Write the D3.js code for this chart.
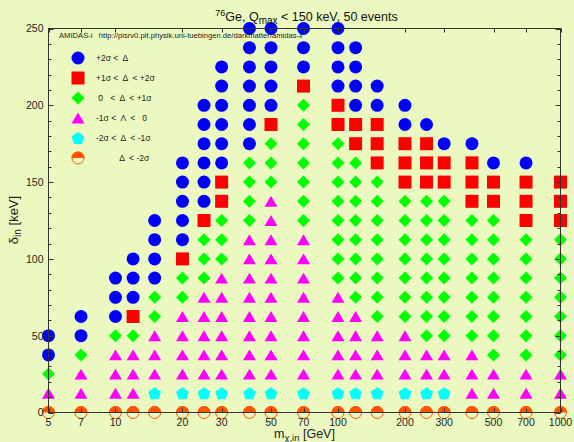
<!DOCTYPE html>
<html>
<head>
<meta charset="utf-8">
<script src="https://cdn.jsdelivr.net/npm/d3@7"></script>
<style>
  html, body { margin: 0; padding: 0; background: #ebf9c0; }
  svg { display: block; font-family: "Liberation Sans", Arial, Helvetica, sans-serif; }
  text { white-space: pre; }
</style>
</head>
<body>
<svg id="chart" width="574" height="442"></svg>
<script>
// WIMP mass columns (GeV)
const masses = [5, 7, 10, 12, 15, 20, 25, 30, 40, 50, 70, 100, 120, 150, 200, 250, 300, 400, 500, 700, 1000];
// delta_in rows (keV)
const deltas = [0, 12.5, 25, 37.5, 50, 62.5, 75, 87.5, 100, 112.5, 125, 137.5, 150,
                162.5, 175, 187.5, 200, 212.5, 225, 237.5, 250];
// Outcome class per (mass, delta) cell, listed from delta = 0 upward, one string per mass
const outcomes = [
  "OMGBB",
  "OMMGBB",
  "OMMMGBBB",
  "OMMMGRBBB",
  "OCMMMGGBBBB",
  "OCMMMMGGRBBBBB",
  "OCMMMMMGGGRBBBBBB",
  "OCMMMMMMGGGRRBBBBBB",
  "OCMMMMMMMMGGGGBBBBBBB",
  "OCMMMMMMMMMMGGGRBBBBB",
  "OCMMMMMMMMGGGGGGGRBBB",
  "OCMMMMMGGGGGGGGRRBBBB",
  "OCMMMMGGGGGGGGRRBBBB",
  "OCMMMGGGGGGGGRRRBB",
  "OCMMMGGGGGGGRRRBB",
  "OCMMGGGGGGGGRRRB",
  "OCMMGGGGGGGGRRB",
  "OMMMGGGGGGGRRRB",
  "OMMGGGGGGGGRRB",
  "OMMGGGGGGGRRRB",
  "OMMGGGGGGGRRR"
];
// Legend classes and their labels
const classCodes  = ["B", "R", "G", "M", "C", "O"];
const classLabels = ["+2σ <  Δ", "+1σ <  Δ  < +2σ", " 0   <  Δ  < +1σ", "-1σ <  Λ  <   0", "-2σ <  Δ  < -1σ", "          Δ  < -2σ"];
// Axis ticks
const xTickValues = [5, 7, 10, 20, 30, 50, 70, 100, 200, 300, 500, 700, 1000];
const yTickValues = [0, 50, 100, 150, 200, 250];

// ---- layout & styles ----
const W = 574, H = 442;
const plot = { left: 48.5, right: 560.5, top: 28.5, bottom: 412.5 };
const bg = "#ebf9c0";
const colors = { B: "#0000ff", R: "#ff0000", G: "#00ff00", M: "#ff00ff", C: "#00ffff", O: "#ff5500" };

const svg = d3.select("#chart");
svg.append("rect").attr("width", W).attr("height", H).attr("fill", bg);

const x = d3.scaleLog().domain([5, 1000]).range([plot.left, plot.right]);
const y = d3.scaleLinear().domain([0, 250]).range([plot.bottom, plot.top]);

// ---- custom symbol shapes ----
const diamond = {
  draw(ctx, size) {
    const r = Math.sqrt(size) / 2;
    ctx.moveTo(0, -r); ctx.lineTo(r, 0); ctx.lineTo(0, r); ctx.lineTo(-r, 0); ctx.closePath();
  }
};
const triangleUp = {
  draw(ctx, size) {
    const w = Math.sqrt(size), h = w * 0.84;
    ctx.moveTo(0, -h / 2); ctx.lineTo(w / 2, h / 2); ctx.lineTo(-w / 2, h / 2); ctx.closePath();
  }
};
const pentagon = {
  draw(ctx, size) {
    const R = Math.sqrt(size) / 2;
    const dy = R * (1 - Math.cos(Math.PI / 5)) / 2;
    for (let k = 0; k < 5; k++) {
      const a = -Math.PI / 2 + k * 2 * Math.PI / 5;
      const px = R * Math.cos(a), py = R * Math.sin(a) + dy;
      if (k === 0) ctx.moveTo(px, py); else ctx.lineTo(px, py);
    }
    ctx.closePath();
  }
};

const shapeFor = {
  B: d3.symbol().type(d3.symbolCircle).size(Math.PI * 6.5 * 6.5),
  R: d3.symbol().type(d3.symbolSquare).size(13 * 13),
  G: d3.symbol().type(diamond).size(13 * 13),
  M: d3.symbol().type(triangleUp).size(13 * 13),
  C: d3.symbol().type(pentagon).size(13.4 * 13.4)
};
const halfR = 6.5;
const upperHalf = d3.arc()({ innerRadius: 0, outerRadius: halfR, startAngle: -Math.PI / 2, endAngle: Math.PI / 2 });

function drawMarker(g, code) {
  if (code === "O") {
    g.append("circle").attr("r", halfR - 0.5).attr("fill", "none")
      .attr("stroke", colors.O).attr("stroke-width", 1);
    g.append("path").attr("d", upperHalf).attr("fill", colors.O);
  } else {
    g.append("path").attr("d", shapeFor[code]()).attr("fill", colors[code]);
  }
}

// ---- data cells ----
const cells = [];
masses.forEach((m, i) => {
  outcomes[i].split("").forEach((code, j) => cells.push({ m, d: deltas[j], code }));
});

const markG = svg.append("g");
markG.selectAll("g.cell").data(cells).join("g")
  .attr("class", "cell")
  .attr("transform", c => `translate(${x(c.m)},${y(c.d)})`)
  .each(function (c) { drawMarker(d3.select(this), c.code); });

// ---- frame and ticks ----
const axisColor = "#333";
const frame = svg.append("g").attr("stroke", axisColor).attr("stroke-width", 1).attr("fill", "none");
frame.append("rect")
  .attr("x", plot.left).attr("y", plot.top)
  .attr("width", plot.right - plot.left).attr("height", plot.bottom - plot.top);

const yMinor = y.ticks(25);
yMinor.forEach(v => {
  const len = yTickValues.includes(v) ? 5 : 3;
  const py = Math.round(y(v)) + 0.5;
  frame.append("line").attr("x1", plot.left).attr("x2", plot.left + len).attr("y1", py).attr("y2", py);
  frame.append("line").attr("x1", plot.right).attr("x2", plot.right - len).attr("y1", py).attr("y2", py);
});
xTickValues.forEach(v => {
  const px = Math.round(x(v)) + 0.5;
  frame.append("line").attr("x1", px).attr("x2", px).attr("y1", plot.bottom).attr("y2", plot.bottom - 4);
  frame.append("line").attr("x1", px).attr("x2", px).attr("y1", plot.top).attr("y2", plot.top + 4);
});

// ---- tick labels ----
const tickFont = 10.5, textColor = "#222";
svg.append("g").selectAll("text").data(yTickValues).join("text")
  .attr("x", plot.left - 5).attr("y", v => y(v) + 3.8)
  .attr("text-anchor", "end").attr("font-size", tickFont).attr("fill", textColor)
  .text(v => v);
svg.append("g").selectAll("text").data(xTickValues).join("text")
  .attr("x", v => x(v)).attr("y", 426)
  .attr("text-anchor", "middle").attr("font-size", tickFont).attr("fill", textColor)
  .text(v => v);

// ---- axis titles ----
const xt = svg.append("text").attr("x", (plot.left + plot.right) / 2).attr("y", 438)
  .attr("text-anchor", "middle").attr("font-size", 12.5).attr("fill", textColor);
xt.append("tspan").text("m");
xt.append("tspan").attr("dy", 2.5).attr("font-size", 9.5).text("χ,in");
xt.append("tspan").attr("dy", -2.5).text(" [GeV]");

const yt = svg.append("text").attr("transform", "translate(18,220) rotate(-90)")
  .attr("text-anchor", "middle").attr("font-size", 13).attr("fill", textColor);
yt.append("tspan").text("δ");
yt.append("tspan").attr("dy", 3).attr("font-size", 10).text("in");
yt.append("tspan").attr("dy", -3).text(" [keV]");

// ---- title ----
const title = svg.append("text").attr("x", (plot.left + plot.right) / 2 + 2).attr("y", 21)
  .attr("text-anchor", "middle").attr("font-size", 12.5).attr("fill", "#111");
title.append("tspan").attr("dy", -5).attr("font-size", 9).text("76");
title.append("tspan").attr("dy", 5).text("Ge, Q");
title.append("tspan").attr("dy", 3).attr("font-size", 10).text("max");
title.append("tspan").attr("dy", -3).text(" < 150 keV, 50 events");

// ---- program note ----
svg.append("text").attr("x", 59).attr("y", 38).attr("font-size", 7.4).attr("fill", "#222")
  .attr("textLength", 244).attr("lengthAdjust", "spacingAndGlyphs")
  .text("AMIDAS-i   http://pisrv0.pit.physik.uni-tuebingen.de/darkmatter/amidas-i/");

// ---- legend ----
const legend = svg.append("g");
classCodes.forEach((code, k) => {
  const ly = 58 + k * 20;
  const g = legend.append("g").attr("transform", `translate(78,${ly})`);
  drawMarker(g, code);
  legend.append("text").attr("x", 96).attr("y", ly + 3)
    .attr("font-size", 8.5).attr("fill", "#222").text(classLabels[k]);
});
</script>
</body>
</html>
